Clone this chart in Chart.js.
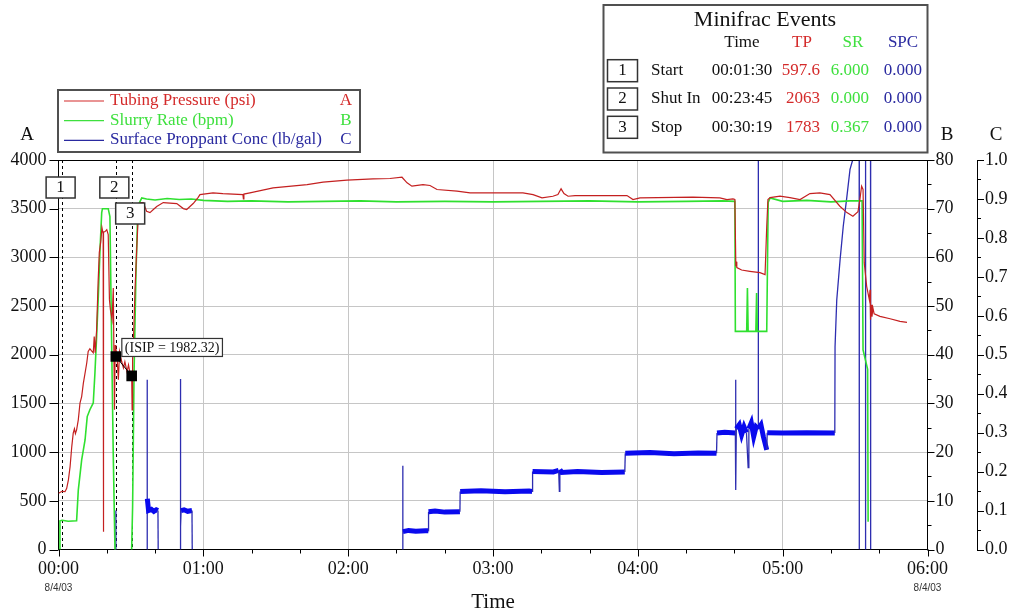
<!DOCTYPE html>
<html>
<head>
<meta charset="utf-8">
<title>Minifrac Treatment Plot</title>
<script src="https://cdn.jsdelivr.net/npm/chart.js@4/dist/chart.umd.min.js"></script>
<style>
  html, body { margin: 0; padding: 0; background: #fff; }
  #wrap { position: relative; width: 1014px; height: 613px; }
  canvas { display: block; }
</style>
</head>
<body>
<div id="wrap"><canvas id="chart" width="1014" height="613"></canvas></div>
<script>
// ---- Tubing pressure (psi) vs elapsed time (minutes) ----
const tpTime = [0, 1.5, 2.7, 3.4, 4.1, 4.8, 5.5, 6.1, 6.6, 7.0, 7.5, 8.2, 8.9, 9.6, 10.3, 11.0, 11.7, 12.3, 13.0, 13.7,
  14.4, 14.8, 15.2, 15.8, 16.4, 16.9, 17.5, 18.0, 18.5, 18.6, 18.7, 19.3, 20.0, 20.6, 21.1, 21.5, 22.2, 22.7, 23.0, 23.2,
  23.5, 23.75, 24.2, 24.8, 25.3, 26.2, 26.9, 27.5, 28.4, 29.0, 29.6, 30.0, 30.32, 30.5, 30.7, 31.2, 31.7, 32.4, 33.1, 33.8,
  35.1, 36.5, 37.9, 39.3, 40.7, 43.4, 49.0, 51.7, 53.1, 55.8, 57.8, 58.6, 64.0, 68.1, 76.4, 76.6, 76.8, 79.3, 88.9, 103.0,
  109.6, 119.5, 130.3, 137.3, 142.3, 144.4, 146.4, 151.0, 153.9, 156.8, 165.1, 170.5, 184.1, 192.4, 196.6, 200.3, 204.8, 206.9, 208.2, 209.4,
  211.1, 214.0, 235.5, 238.0, 240.9, 262.8, 274.0, 276.9, 279.4, 280.2, 280.6, 280.8, 281.0, 283.0, 286.4, 290.6, 292.7, 293.4, 293.9, 294.8,
  298.9, 303.0, 307.2, 311.3, 315.4, 319.6, 323.7, 326.6, 329.1, 331.2, 332.0, 332.7, 333.3, 333.8, 334.8, 335.9, 336.2, 336.4, 336.7, 337.0,
  337.4, 337.9, 340.3, 344.5, 348.6, 351.5];
const tpPsi = [578, 597.6, 594, 629, 715, 851, 1057, 1195, 1240, 1190, 1229, 1332, 1503, 1571, 1709, 1812, 1915, 2034, 2062, 2040,
  2021, 2188, 2021, 2257, 2740, 3049, 3162, 3306, 3240, 183, 3260, 3265, 3285, 3234, 2566, 2463, 2360, 2686, 1900, 1434,
  2100, 2063, 2000, 1743, 2031, 1928, 1866, 1928, 1825, 1897, 1815, 1800, 1783, 1434, 1948, 2257, 2668, 3080, 3460, 3563,
  3563, 3474, 3460, 3491, 3522, 3563, 3553, 3501, 3491, 3553, 3614, 3645, 3663, 3655, 3645, 3600, 3650, 3663, 3714, 3748,
  3772, 3793, 3807, 3810, 3823, 3766, 3731, 3748, 3738, 3697, 3680, 3663, 3663, 3663, 3645, 3611, 3628, 3645, 3704, 3655,
  3628, 3635, 3635, 3594, 3611, 3618, 3611, 3594, 3601, 3594, 2908, 2956, 2895, 2870, 2857, 2843, 2823, 3320, 3594, 3614,
  3628, 3614, 3594, 3655, 3663, 3645, 3525, 3460, 3422, 3470, 3594, 3731, 3697, 2943, 2703, 2566, 2668, 2360, 2514, 2390,
  2480, 2420, 2394, 2370, 2343, 2332];

// ---- Slurry rate (bpm); null marks a stretch with no pumping drawn ----
const srTime = [0, 0.4, 0.6, 1.5, 4.0, 7.5, 8.2, 9.6, 11.0, 11.9, 13.0, 14.4, 15.1, 15.8, 16.5, 17.2, 17.9, 18.2, 20.6, 21.3,
  22.0, 22.7, 23.4, 23.75, 23.8, 30.2, 30.32, 30.7, 31.3, 32.1, 32.7, 33.5, 34.5, 36.5, 40, 45, 50, 55, 60, 70,
  80, 95, 110, 125, 140, 160, 180, 200, 220, 240, 260, 275, 280.2, 280.4, 285.1, 285.4, 285.7, 288.9, 289.2, 289.5,
  293.4, 294.0, 294.8, 300, 310, 320, 328, 332.9, 333.3, 335.2, 335.4];
const srBpm = [0, 0, 5.9, 6.0, 5.8, 5.9, 12.2, 18.4, 22.5, 27.3, 28.7, 30.1, 36.3, 43.8, 52.0, 61.6, 69.2, 70.0, 70.0, 68.4,
  43.0, 19.0, 0, 0, null, 0, 0.367, 8.8, 36.2, 56.8, 67.1, 71.2, 72.2, 72.0, 71.8, 72.1, 71.9, 72.0, 71.7, 71.5,
  71.6, 71.4, 71.5, 71.6, 71.4, 71.5, 71.4, 71.5, 71.6, 71.4, 71.5, 71.6, 71.5, 44.8, 44.8, 53.7, 44.8, 44.8, 52.7, 44.8,
  44.8, 71.3, 72.2, 71.5, 71.7, 71.4, 71.6, 71.6, 41.0, 37.0, 5.7];

// ---- Surface proppant concentration (lb/gal); null breaks the trace while it sits at zero ----
const spcTime = [23.7, 23.75, 23.8, 24.0,
  36.7, 36.72, 36.8, 37.3, 38.5, 39.5, 40.5, 41.2, 41.3, 42.0,
  50.5, 50.52, 50.6, 50.8, 52.0, 53.5, 55.3, 55.4, 56.0,
  142.5, 142.6, 142.7, 145, 148, 152, 153.2, 153.3, 156, 160, 166.3, 166.4, 175, 185, 195, 196.2, 196.4,
  205, 207.2, 207.5, 207.7, 208.5, 215, 225, 234.6, 234.8, 245, 255, 265, 272.6, 272.8, 276, 280.4, 280.5, 280.6, 280.8, 282,
  283, 284, 285, 285.7, 286, 287, 288, 289, 289.85, 289.9, 289.95, 291, 292, 293.4, 293.6, 300, 310, 321.6, 321.7, 322.4,
  323.8, 325.1, 326.5, 327.9, 329.0, 331.7, 331.75, 332.0, 334.3, 334.35, 336.4, 336.45];
const spcLbGal = [0, 0.1, 0, null,
  0, 0.436, 0.13, 0.10, 0.103, 0.098, 0.102, 0.10, 0, null,
  0, 0.438, 0.059, 0.10, 0.102, 0.098, 0.10, 0, null,
  0, 0.215, 0.046, 0.049, 0.047, 0.048, 0.048, 0.097, 0.099, 0.096, 0.097, 0.149, 0.151, 0.148, 0.150, 0.149, 0.200,
  0.199, 0.203, 0.149, 0.205, 0.198, 0.200, 0.198, 0.199, 0.247, 0.249, 0.246, 0.248, 0.247, 0.299, 0.301, 0.299, 0.436, 0.153, 0.31, 0.32,
  0.295, 0.315, 0.30, 0.21, 0.31, 0.325, 0.29, 0.315, 0.31, 1.0, 0.31, 0.32, 0.29, 0.256, 0.30, 0.299, 0.30, 0.299, 0.52, 0.64,
  0.745, 0.83, 0.90, 0.976, 1.0, 1.0, 0, null, 0, 1.0, 1.0, 0];

// ---- Minifrac events ----
const eventNames = ['Start', 'Shut In', 'Stop'];
const eventSec = [90, 1425, 1819];
const eventTP = [597.6, 2063, 1783];
const eventSR = [6.000, 0.000, 0.367];
const eventSPC = [0.000, 0.000, 0.000];
const isipTime = 23.75;      // minutes
const isipPsi = 1982.32;

// ---- Axis ranges ----
const timeRangeMin = [0, 360];
const axisA = [0, 4000, 500];
const axisB = [0, 80, 10];
const axisC = [0, 1.0, 0.1];
const dateLabel = '8/4/03';

const SERIF = "'Liberation Serif','Times New Roman',serif";
const SANS = "'Liberation Sans',Arial,sans-serif";
const RED = '#c42020', GREEN = '#2fe02f', BLUE = '#1414d0';

const pairs = (ts, vs) => ts.map((t, i) => ({ x: t, y: vs[i] }));
const pad2 = n => String(n).padStart(2, '0');
const hhmmss = s => pad2(Math.floor(s / 3600)) + ':' + pad2(Math.floor(s / 60) % 60) + ':' + pad2(s % 60);

// proppant plateaus are noisy bands, jumps are thin strokes
const isBand = c => {
  const y0 = c.p0.parsed.y, y1 = c.p1.parsed.y;
  return y0 > 0.02 && y1 > 0.02 && y0 < 0.5 && y1 < 0.5 && Math.abs(y1 - y0) < 0.04;
};

function drawTickMarks(ctx, scale, side, majorLen, minorLen, parts) {
  const vals = scale.ticks.map(t => t.value);
  ctx.beginPath();
  const mark = (v, len) => {
    const p = Math.round(scale.getPixelForValue(v)) + 0.5;
    if (side === 'down') { ctx.moveTo(p, scale.top); ctx.lineTo(p, scale.top + len); }
    else if (side === 'left') { ctx.moveTo(scale.right, p); ctx.lineTo(scale.right - len, p); }
    else { ctx.moveTo(scale.left, p); ctx.lineTo(scale.left + len, p); }
  };
  vals.forEach((v, i) => {
    mark(v, majorLen);
    if (parts > 1 && i < vals.length - 1) {
      for (let k = 1; k < parts; k++) mark(v + (vals[i + 1] - v) * k / parts, minorLen);
    }
  });
  ctx.stroke();
}

const overlay = {
  id: 'overlay',
  beforeDatasetsDraw(chart) {
    const { ctx, chartArea: a, scales: { x } } = chart;
    ctx.save();
    ctx.strokeStyle = '#000';
    ctx.lineWidth = 1;
    ctx.setLineDash([3, 3]);
    eventSec.forEach(s => {
      const px = Math.round(x.getPixelForValue(s / 60)) + 0.5;
      ctx.beginPath();
      ctx.moveTo(px, a.top);
      ctx.lineTo(px, a.bottom);
      ctx.stroke();
    });
    ctx.restore();
  },
  afterDatasetsDraw(chart) {
    const { ctx, chartArea: a, scales: { x, yA } } = chart;
    ctx.save();
    ctx.textAlign = 'center';
    ctx.textBaseline = 'middle';
    ctx.font = '17px ' + SERIF;
    // numbered event flags
    eventSec.forEach((s, i) => {
      const px = x.getPixelForValue(s / 60);
      const top = a.top + (i === 2 ? 43 : 17);
      ctx.fillStyle = '#fff';
      ctx.fillRect(px - 16, top, 29, 21);
      ctx.strokeStyle = '#333';
      ctx.lineWidth = 1.5;
      ctx.strokeRect(px - 16, top, 29, 21);
      ctx.fillStyle = '#111';
      ctx.fillText(String(i + 1), px - 1.5, top + 11);
    });
    // ISIP annotation
    const ix = x.getPixelForValue(isipTime), iy = yA.getPixelForValue(isipPsi);
    const txt = '(ISIP = ' + isipPsi.toFixed(2) + ')';
    ctx.font = '14px ' + SERIF;
    const w = ctx.measureText(txt).width + 6;
    const bx = ix + 6, by = iy - 18;
    ctx.fillStyle = '#fff';
    ctx.fillRect(bx, by, w, 18);
    ctx.strokeStyle = '#333';
    ctx.lineWidth = 1.2;
    ctx.strokeRect(bx, by, w, 18);
    ctx.fillStyle = '#111';
    ctx.textAlign = 'left';
    ctx.fillText(txt, bx + 3, by + 9.5);
    ctx.restore();
  },
  afterDraw(chart) {
    const { ctx, chartArea: a, scales } = chart;
    ctx.save();
    // frame top edge
    ctx.strokeStyle = '#000';
    ctx.lineWidth = 1;
    ctx.beginPath();
    ctx.moveTo(a.left, Math.round(a.top) + 0.5);
    ctx.lineTo(a.right, Math.round(a.top) + 0.5);
    ctx.stroke();
    // tick marks
    drawTickMarks(ctx, scales.x, 'down', 7, 4, 3);
    drawTickMarks(ctx, scales.yA, 'left', 9, 0, 1);
    drawTickMarks(ctx, scales.yB, 'right', 7, 4, 2);
    drawTickMarks(ctx, scales.yC, 'right', 7, 4, 2);

    // axis letters
    ctx.fillStyle = '#111';
    ctx.font = '19px ' + SERIF;
    ctx.textAlign = 'center';
    ctx.textBaseline = 'middle';
    ctx.fillText('A', 27, 135);
    ctx.fillText('B', 947, 135);
    ctx.fillText('C', 996, 135);

    // dates under first and last time labels
    ctx.font = '10px ' + SANS;
    ctx.fillStyle = '#333';
    ctx.fillText(dateLabel, scales.x.getPixelForValue(timeRangeMin[0]), 588);
    ctx.fillText(dateLabel, scales.x.getPixelForValue(timeRangeMin[1]), 588);

    // series legend
    const legendRows = [
      { ds: chart.data.datasets[1], color: '#d42a2a', text: '#d42a2a', letter: 'A' },
      { ds: chart.data.datasets[2], color: '#3ee03e', text: '#3ee03e', letter: 'B' },
      { ds: chart.data.datasets[3], color: '#2a2aa0', text: '#2a2aa0', letter: 'C' }
    ];
    ctx.fillStyle = '#fff';
    ctx.fillRect(58, 90, 302, 62);
    ctx.strokeStyle = '#505050';
    ctx.lineWidth = 2;
    ctx.strokeRect(58, 90, 302, 62);
    ctx.font = '17px ' + SERIF;
    legendRows.forEach((r, i) => {
      const y = 100.5 + i * 19.7;
      ctx.strokeStyle = r.color;
      ctx.lineWidth = 1.2;
      ctx.beginPath();
      ctx.moveTo(64, y + 0.5);
      ctx.lineTo(104, y + 0.5);
      ctx.stroke();
      ctx.fillStyle = r.text;
      ctx.textAlign = 'left';
      ctx.fillText(r.ds.label, 110, y);
      ctx.textAlign = 'center';
      ctx.fillText(r.letter, 346, y);
    });

    // events table
    ctx.fillStyle = '#fff';
    ctx.fillRect(603.5, 5, 324, 147.5);
    ctx.strokeStyle = '#505050';
    ctx.lineWidth = 2;
    ctx.strokeRect(603.5, 5, 324, 147.5);
    ctx.fillStyle = '#111';
    ctx.textAlign = 'center';
    ctx.font = '22px ' + SERIF;
    ctx.fillText('Minifrac Events', 765, 20);
    ctx.font = '17px ' + SERIF;
    ctx.fillText('Time', 742, 43);
    ctx.fillStyle = '#d42a2a'; ctx.fillText('TP', 802, 43);
    ctx.fillStyle = '#3ee03e'; ctx.fillText('SR', 853, 43);
    ctx.fillStyle = '#2a2aa0'; ctx.fillText('SPC', 903, 43);
    eventNames.forEach((name, i) => {
      const y = 70.7 + i * 28.3;
      ctx.strokeStyle = '#333';
      ctx.lineWidth = 1.5;
      ctx.strokeRect(607.5, y - 11, 30, 22);
      ctx.fillStyle = '#111';
      ctx.textAlign = 'center';
      ctx.fillText(String(i + 1), 622.5, y);
      ctx.textAlign = 'left';
      ctx.fillText(name, 651, y);
      ctx.textAlign = 'center';
      ctx.fillText(hhmmss(eventSec[i]), 742, y);
      ctx.textAlign = 'right';
      ctx.fillStyle = '#d42a2a';
      ctx.fillText(eventTP[i] < 1000 ? eventTP[i].toFixed(1) : eventTP[i].toFixed(0), 820, y);
      ctx.fillStyle = '#3ee03e';
      ctx.fillText(eventSR[i].toFixed(3), 869, y);
      ctx.fillStyle = '#2a2aa0';
      ctx.fillText(eventSPC[i].toFixed(3), 922, y);
    });
    ctx.restore();
  }
};

const tickFont = { family: SERIF, size: 18 };

new Chart(document.getElementById('chart'), {
  type: 'line',
  data: {
    datasets: [
      {
        label: 'ISIP',
        data: [{ x: isipTime, y: isipPsi }, { x: eventSec[2] / 60, y: eventTP[2] }],
        yAxisID: 'yA',
        borderColor: '#000',
        borderWidth: 1,
        pointStyle: 'rect',
        pointRadius: 7.5,
        pointBackgroundColor: '#000',
        pointBorderColor: '#000',
        pointBorderWidth: 0
      },
      {
        label: 'Tubing Pressure (psi)',
        data: pairs(tpTime, tpPsi),
        yAxisID: 'yA',
        borderColor: RED,
        borderWidth: 1.2,
        pointRadius: 0
      },
      {
        label: 'Slurry Rate (bpm)',
        data: pairs(srTime, srBpm),
        yAxisID: 'yB',
        borderColor: GREEN,
        borderWidth: 1.6,
        pointRadius: 0
      },
      {
        label: 'Surface Proppant Conc (lb/gal)',
        data: pairs(spcTime, spcLbGal),
        yAxisID: 'yC',
        borderColor: BLUE,
        borderWidth: 1.3,
        pointRadius: 0,
        segment: {
          borderWidth: c => isBand(c) ? 5 : 1.3,
          borderColor: c => isBand(c) ? '#0a0aee' : '#2d2db0'
        }
      }
    ]
  },
  options: {
    responsive: false,
    animation: false,
    devicePixelRatio: 1,
    spanGaps: false,
    layout: { padding: { left: 0, right: 7, top: 160, bottom: 0 } },
    plugins: { legend: { display: false }, tooltip: { enabled: false } },
    elements: { line: { tension: 0 }, point: { radius: 0 } },
    scales: {
      x: {
        type: 'linear',
        min: timeRangeMin[0],
        max: timeRangeMin[1],
        ticks: {
          stepSize: 60,
          autoSkip: false,
          maxRotation: 0,
          padding: 9,
          color: '#111',
          font: tickFont,
          callback: v => pad2(Math.round(v / 60)) + ':00'
        },
        grid: {
          drawTicks: false,
          color: c => (c.tick && c.tick.value > timeRangeMin[0] && c.tick.value < timeRangeMin[1]) ? '#c6c6c6' : 'rgba(0,0,0,0)'
        },
        border: { color: '#000', width: 1 },
        title: { display: true, text: 'Time', color: '#111', font: { family: SERIF, size: 21, lineHeight: 1 }, padding: { top: 0, bottom: 0 } },
        afterFit: s => { s.height = 63.5; }
      },
      yA: {
        type: 'linear',
        position: 'left',
        min: axisA[0], max: axisA[1],
        ticks: { stepSize: axisA[2], padding: 12, color: '#111', font: tickFont, callback: v => String(v) },
        grid: {
          drawTicks: false,
          color: c => (c.tick && c.tick.value > axisA[0] && c.tick.value < axisA[1]) ? '#c6c6c6' : 'rgba(0,0,0,0)'
        },
        border: { color: '#000', width: 1 },
        afterFit: s => { s.width = 58.5; }
      },
      yB: {
        type: 'linear',
        position: 'right',
        min: axisB[0], max: axisB[1],
        ticks: { stepSize: axisB[2], padding: 8, color: '#111', font: tickFont, callback: v => String(v) },
        grid: { display: false, drawTicks: false },
        border: { color: '#000', width: 1 },
        afterFit: s => { s.width = 49.5; }
      },
      yC: {
        type: 'linear',
        position: 'right',
        min: axisC[0], max: axisC[1],
        ticks: { stepSize: axisC[2], padding: 8, color: '#111', font: tickFont, callback: v => v.toFixed(1) },
        grid: { display: false, drawTicks: false },
        border: { color: '#000', width: 1 },
        afterFit: s => { s.width = 30; }
      }
    }
  },
  plugins: [overlay]
});
</script>
</body>
</html>
